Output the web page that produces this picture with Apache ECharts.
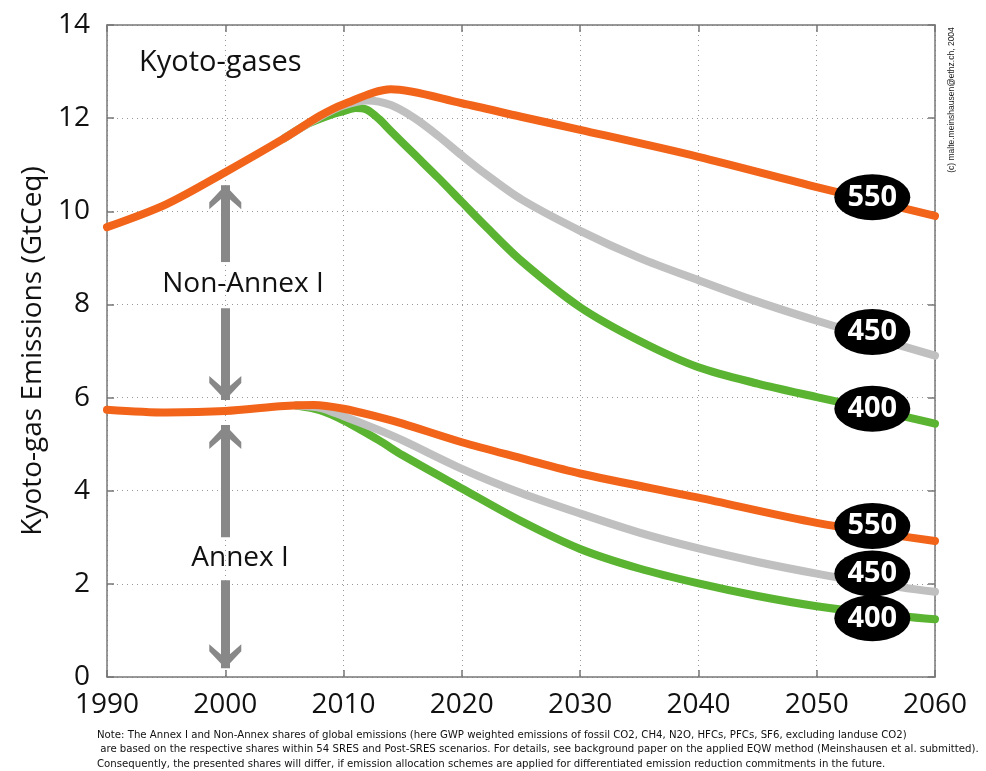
<!DOCTYPE html>
<html>
<head>
<meta charset="utf-8">
<script src="https://cdn.jsdelivr.net/npm/echarts@6/dist/echarts.min.js"></script>
<style>
html,body{margin:0;padding:0;background:#fff;}
#main{width:986px;height:771px;}
</style>
</head>
<body>
<div id="main"></div>
<script>
// ---------- Data ----------
const xTicks = [1990, 2000, 2010, 2020, 2030, 2040, 2050, 2060];
const yTicks = [0, 2, 4, 6, 8, 10, 12, 14];

// Non-Annex I (upper curves)
const upper550Years = [1990, 1995, 2000, 2005, 2008, 2010, 2014, 2020, 2025, 2030, 2040, 2050, 2060];
const upper550 = [9.66, 10.15, 10.84, 11.57, 12.05, 12.3, 12.62, 12.32, 12.03, 11.75, 11.17, 10.52, 9.9];

const upper450Years = [2005, 2008, 2010, 2012, 2014, 2016, 2018, 2020, 2022, 2025, 2030, 2035, 2040, 2045, 2050, 2055, 2060];
const upper450 = [11.57, 12.03, 12.27, 12.38, 12.28, 12.0, 11.62, 11.2, 10.8, 10.26, 9.58, 9.0, 8.52, 8.06, 7.65, 7.27, 6.9];

const upper400Years = [2005, 2007, 2009, 2010, 2011, 2012, 2013, 2014, 2016, 2018, 2020, 2022, 2025, 2030, 2035, 2040, 2045, 2050, 2055, 2060];
const upper400 = [11.57, 11.88, 12.08, 12.15, 12.22, 12.18, 11.98, 11.72, 11.22, 10.72, 10.2, 9.68, 8.94, 7.94, 7.22, 6.65, 6.3, 6.01, 5.73, 5.44];

// Annex I (lower curves)
const lower550Years = [1990, 1995, 2000, 2005, 2007.5, 2010, 2013, 2015, 2020, 2025, 2030, 2040, 2050, 2060];
const lower550 = [5.74, 5.68, 5.71, 5.82, 5.84, 5.76, 5.58, 5.44, 5.04, 4.7, 4.37, 3.85, 3.31, 2.92];

const lower450Years = [2006, 2008, 2010, 2013, 2015, 2020, 2025, 2030, 2035, 2040, 2045, 2050, 2055, 2060];
const lower450 = [5.83, 5.78, 5.6, 5.3, 5.08, 4.47, 3.95, 3.51, 3.1, 2.76, 2.47, 2.22, 2.0, 1.83];

const lower400Years = [2006, 2008, 2010, 2013, 2015, 2020, 2025, 2030, 2035, 2040, 2045, 2050, 2055, 2060];
const lower400 = [5.83, 5.73, 5.51, 5.08, 4.76, 4.05, 3.35, 2.75, 2.33, 2.01, 1.74, 1.52, 1.36, 1.24];

// Scenario badges (year, value, text)
const badgeYear = 2054.7;
const badgeValues = [10.3, 7.41, 5.76, 3.24, 2.22, 1.26];
const badgeTexts = ['550', '450', '400', '550', '450', '400'];

// Region annotations
const regionTexts = ['Non-Annex I', 'Annex I'];
const regionPos = [[2001.5, 8.43], [2001.25, 2.55]];

// Double arrows at year 2000: [from, to] with arrowhead tip at 'to'
const arrowYear = 2000;
const arrowSegments = [[8.91, 10.56], [7.92, 5.95], [3.0, 5.41], [2.08, 0.19]];

const noteText = 'Note: The Annex I and Non-Annex shares of global emissions (here GWP weighted emissions of fossil CO2, CH4, N2O, HFCs, PFCs, SF6, excluding landuse CO2)\n are based on the respective shares within 54 SRES and Post-SRES scenarios. For details, see background paper on the applied EQW method (Meinshausen et al. submitted).\nConsequently, the presented shares will differ, if emission allocation schemes are applied for differentiated emission reduction commitments in the future.';

// ---------- Chart ----------
const C_ORANGE = '#f26419';
const C_GRAY = '#c0c0c0';
const C_GREEN = '#5ab431';
const FONT = '"Open Sans", "Noto Sans", sans-serif';
const CHEVRON = 'path://M0,0 L16,17 L16,24 L0,10 L-16,24 L-16,17 Z';
const HEAD_W = 32, HEAD_H = 24;

function zip(xs, ys) { return xs.map((x, i) => [x, ys[i]]); }

const chart = echarts.init(document.getElementById('main'), null, { renderer: 'canvas' });

function lineSeries(name, xs, ys, color) {
  return {
    name, type: 'line', data: zip(xs, ys), smooth: 0.3, showSymbol: false, symbol: 'none',
    lineStyle: { color, width: 8, cap: 'round', join: 'round', opacity: 1 }, z: 3, silent: true
  };
}

const gridLine = { show: true, lineStyle: { color: '#999', type: [1, 4], width: 1 } };

const option = {
  animation: false,
  backgroundColor: '#fff',
  title: {
    text: 'Kyoto-gases', left: 134, top: 43,
    textStyle: { fontFamily: FONT, fontSize: 29, fontWeight: 'normal', color: '#111' }
  },
  grid: { left: 107, right: 51, top: 25, bottom: 94 },
  xAxis: [{
    type: 'value', min: 1990, max: 2060, interval: 10,
    axisLine: { show: true, onZero: false, lineStyle: { color: '#777', width: 1.5 } },
    axisTick: { show: true, inside: true, length: 7, lineStyle: { color: '#777', width: 1.5 } },
    axisLabel: { fontFamily: FONT, fontSize: 28, color: '#111', margin: 14,
      formatter: v => xTicks.includes(v) ? String(v) : '' },
    splitLine: gridLine
  }, {
    type: 'value', position: 'top', min: 1990, max: 2060, interval: 10,
    axisLine: { show: true, onZero: false, lineStyle: { color: '#777', width: 1.5 } },
    axisTick: { show: true, inside: true, length: 7, lineStyle: { color: '#777', width: 1.5 } },
    axisLabel: { show: false }, splitLine: { show: false }
  }],
  yAxis: [{
    type: 'value', min: 0, max: 14, interval: 2,
    name: 'Kyoto-gas Emissions (GtCeq)', nameLocation: 'middle', nameGap: 56,
    nameTextStyle: { fontFamily: FONT, fontSize: 28, color: '#111' },
    axisLine: { show: true, onZero: false, lineStyle: { color: '#777', width: 1.5 } },
    axisTick: { show: true, inside: true, length: 7, lineStyle: { color: '#777', width: 1.5 } },
    axisLabel: { fontFamily: FONT, fontSize: 28, color: '#111', margin: 17,
      formatter: v => yTicks.includes(v) ? String(v) : '' },
    splitLine: gridLine
  }, {
    type: 'value', position: 'right', min: 0, max: 14, interval: 2,
    axisLine: { show: true, onZero: false, lineStyle: { color: '#777', width: 1.5 } },
    axisTick: { show: true, inside: true, length: 7, lineStyle: { color: '#777', width: 1.5 } },
    axisLabel: { show: false }, splitLine: { show: false }
  }],
  graphic: [
    {
      type: 'text', left: 97, top: 728, silent: true,
      style: { text: noteText, font: '11.3px "Liberation Sans Narrow", "DejaVu Sans Condensed", sans-serif',
        fill: '#111', lineHeight: 14.3 }
    },
    {
      type: 'text', x: 952, y: 100, rotation: Math.PI / 2, silent: true,
      style: { text: '(c) malte.meinshausen@ethz.ch, 2004', font: '8.5px "Liberation Sans Narrow", sans-serif',
        fill: '#222', align: 'center', verticalAlign: 'middle' }
    }
  ],
  series: [
    lineSeries('upper400', upper400Years, upper400, C_GREEN),
    lineSeries('upper450', upper450Years, upper450, C_GRAY),
    lineSeries('upper550', upper550Years, upper550, C_ORANGE),
    lineSeries('lower400', lower400Years, lower400, C_GREEN),
    lineSeries('lower450', lower450Years, lower450, C_GRAY),
    lineSeries('lower550', lower550Years, lower550, C_ORANGE),
    {
      name: 'arrows', type: 'line', data: [], silent: true,
      markLine: {
        silent: true, animation: false,
        symbol: ['none', CHEVRON],
        lineStyle: { color: '#888', width: 9, type: 'solid', opacity: 1 },
        itemStyle: { color: '#888' },
        label: { show: false },
        emphasis: { disabled: true },
        data: arrowSegments.map(s => [
          { coord: [arrowYear, s[0]], symbol: 'none' },
          { coord: [arrowYear, s[1]], symbol: CHEVRON, symbolSize: [HEAD_W, HEAD_H], symbolOffset: [0, HEAD_H / 2] }
        ])
      }
    },
    {
      name: 'regions', type: 'scatter', symbolSize: 0, silent: true, z: 5,
      itemStyle: { opacity: 1 },
      data: regionPos.map((p, i) => [p[0], p[1], regionTexts[i]]),
      label: { show: true, position: 'inside', formatter: p => p.value[2],
        fontFamily: FONT, fontSize: 28, color: '#111', opacity: 1 }
    },
    {
      name: 'badges', type: 'scatter', symbol: 'circle', symbolSize: [76, 46], silent: true, z: 10,
      itemStyle: { color: '#000', opacity: 1 },
      data: badgeValues.map((v, i) => [badgeYear, v, badgeTexts[i]]),
      label: { show: true, position: 'inside', formatter: p => p.value[2],
        fontFamily: FONT, fontSize: 29, fontWeight: 'bold', color: '#fff', opacity: 1 }
    }
  ]
};
chart.setOption(option);
</script>
</body>
</html>
